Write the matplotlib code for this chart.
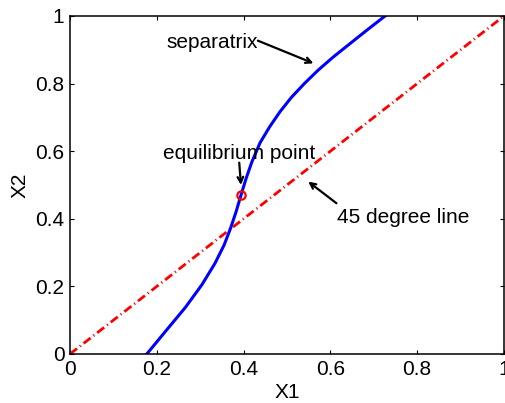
import matplotlib
matplotlib.use('Agg')
import matplotlib.pyplot as plt

plt.rcParams['font.family'] = ['Liberation Sans', 'DejaVu Sans']

# separatrix
sep_x = [0.177, 0.222, 0.266, 0.304, 0.334, 0.355, 0.370, 0.383, 0.394,
         0.406, 0.419, 0.438, 0.460, 0.484, 0.510, 0.540, 0.572, 0.606,
         0.642, 0.684, 0.726]
sep_y = [0.000, 0.070, 0.138, 0.205, 0.268, 0.322, 0.372, 0.422, 0.470,
         0.520, 0.568, 0.625, 0.672, 0.717, 0.759, 0.800, 0.840, 0.878,
         0.915, 0.958, 1.000]

diag_x = [0, 1]
diag_y = [0, 1]

eq_x, eq_y = 0.394, 0.470

ticks = [0, 0.2, 0.4, 0.6, 0.8, 1]
tick_labels = ['0', '0.2', '0.4', '0.6', '0.8', '1']

fs = 15

fig = plt.figure(figsize=(5.06, 4.03), dpi=100)
ax = fig.add_axes([0.1383, 0.1216, 0.8577, 0.8387])

ax.plot(diag_x, diag_y, color='red', lw=2, linestyle=(0, (3.2, 1.3, 0.4, 1.3)))
ax.plot(sep_x, sep_y, color='blue', lw=2.2, solid_joinstyle='round')
ax.plot([eq_x], [eq_y], 'o', mfc='none', mec='red', ms=6, mew=1.6)

arr = dict(arrowstyle='->', color='black', lw=1.6, shrinkA=0, shrinkB=0)
ax.annotate('', xy=(0.561, 0.860), xytext=(0.433, 0.927), arrowprops=arr)
ax.text(0.433, 0.921, 'separatrix', ha='right', va='center', fontsize=fs)
ax.annotate('', xy=(0.394, 0.50), xytext=(0.390, 0.566), arrowprops=arr)
ax.text(0.39, 0.566, 'equilibrium point', ha='center', va='bottom', fontsize=fs)
ax.annotate('', xy=(0.549, 0.510), xytext=(0.614, 0.446), arrowprops=arr)
ax.text(0.615, 0.432, '45 degree line', ha='left', va='top', fontsize=fs)

ax.set_xlim(0, 1)
ax.set_ylim(0, 1)
ax.set_xticks(ticks)
ax.set_xticklabels(tick_labels)
ax.set_yticks(ticks)
ax.set_yticklabels(tick_labels)
ax.tick_params(direction='in', length=3, width=0.8, labelsize=fs, pad=4,
               top=True, right=True)
for s in ax.spines.values():
    s.set_linewidth(1.1)

ax.set_xlabel('X1', fontsize=fs, labelpad=3)
ax.set_ylabel('X2', fontsize=fs, labelpad=4)

fig.savefig('out.png', dpi=100)
